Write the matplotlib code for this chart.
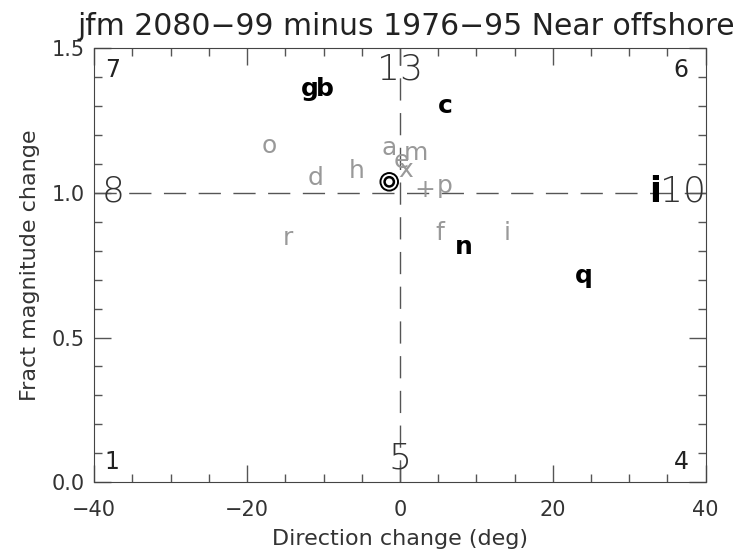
import numpy as np
import matplotlib.pyplot as plt
from matplotlib.ticker import MultipleLocator

# Labels of the wave cases, black ones are the significant changes
black_labels = ['g', 'b', 'c', 'n', 'q']
black_dir = [-11.8, -9.8, 6.0, 8.4, 24.0]
black_mag = [1.335, 1.335, 1.275, 0.79, 0.69]

gray_labels = ['o', 'd', 'h', 'a', 'm', 'e', 'x', 'p', 'f', 'i', 'r', '+']
gray_dir = [-17.1, -11.0, -5.7, -1.4, 2.1, 0.2, 0.8, 5.8, 5.2, 14.0, -14.7, 3.2]
gray_mag = [1.137, 1.027, 1.051, 1.130, 1.113, 1.085, 1.055, 0.998, 0.836, 0.836, 0.819, 0.985]

# the large black 'i' sitting on the 1.0 line
big_labels = ['i']
big_dir = [33.4]
big_mag = [0.968]

# mean change (double circle)
mean_dir = [-1.4]
mean_mag = [1.038]

# sector numbers around the frame
small_nums = ['7', '6', '1', '4']
small_dir = [-37.6, 36.8, -37.7, 36.8]
small_mag = [1.40, 1.40, 0.046, 0.046]

large_nums = ['13', '8', '10', '5']
large_dir = [0.0, -37.6, 37.0, 0.0]
large_mag = [1.39, 0.969, 0.969, 0.047]

title = 'jfm 2080\u221299 minus 1976\u221295 Near offshore'

fig = plt.figure(figsize=(7.42, 5.53), dpi=100)
ax = fig.add_axes([0.127, 0.128, 0.824, 0.785])

ax.set_xlim(-40, 40)
ax.set_ylim(0.0, 1.5)

# reference lines
ax.axhline(1.0, color='#555555', lw=1, dashes=(16, 9))
ax.axvline(0.0, color='#555555', lw=1, dashes=(16, 9))

for lab, x, y in zip(gray_labels, gray_dir, gray_mag):
    ax.text(x, y, lab, color='#999999', fontsize=18, ha='center', va='baseline')

for lab, x, y in zip(black_labels, black_dir, black_mag):
    ax.text(x, y, lab, color='black', fontsize=18, fontweight='bold', ha='center', va='baseline')

for lab, x, y in zip(big_labels, big_dir, big_mag):
    ax.text(x, y, lab, color='black', fontsize=25, fontweight='bold', ha='center', va='baseline')

ax.scatter(mean_dir, mean_mag, s=160, facecolors='none', edgecolors='black', linewidths=1.4, zorder=5)
ax.scatter(mean_dir, mean_mag, s=45, facecolors='none', edgecolors='black', linewidths=1.8, zorder=5)

for lab, x, y in zip(small_nums, small_dir, small_mag):
    ax.text(x, y, lab, color='#222222', fontsize=17, ha='center', va='baseline')

for lab, x, y in zip(large_nums, large_dir, large_mag):
    ax.text(x, y, lab, color='#333333', fontsize=26, fontweight='light', ha='center', va='baseline')

# IDL style frame: ticks inward on all sides
ax.xaxis.set_major_locator(MultipleLocator(20))
ax.xaxis.set_minor_locator(MultipleLocator(5))
ax.yaxis.set_major_locator(MultipleLocator(0.5))
ax.yaxis.set_minor_locator(MultipleLocator(0.1))
ax.yaxis.set_major_formatter(plt.FormatStrFormatter('%.1f'))
ax.tick_params(which='both', direction='in', top=True, right=True, color='#555555',
               labelcolor='#333333')
ax.tick_params(which='major', length=12, width=1, labelsize=15)
ax.tick_params(axis='x', which='major', pad=13)
ax.tick_params(axis='y', which='major', pad=7)
ax.tick_params(which='minor', length=6, width=1)
for sp in ax.spines.values():
    sp.set_color('#444444')

ax.set_xlabel('Direction change (deg)', fontsize=16, color='#333333', labelpad=6)
ax.set_ylabel('Fract magnitude change', fontsize=16, color='#333333', labelpad=8)

fig.text(406 / 742, 1 - 35 / 553, title, fontsize=21.5, color='#222222', ha='center', va='baseline')

plt.savefig('out.png', dpi=100)
